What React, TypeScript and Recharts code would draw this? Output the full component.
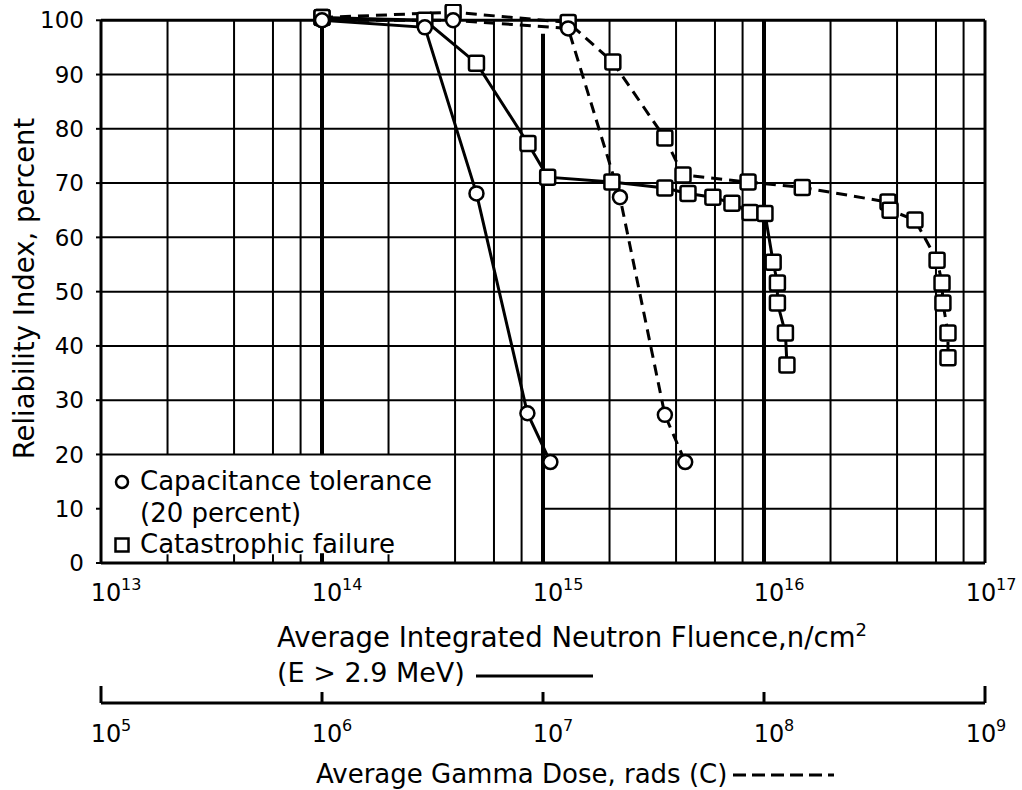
import React from 'react';
import { LineChart, Line, XAxis, YAxis, ReferenceLine } from 'recharts';

const FONT = '"DejaVu Sans", sans-serif';

// capacitance tolerance (20 percent) vs neutron fluence — solid
const capFluence = [1e14, 2.92e14, 5.0e14, 8.5e14, 1.08e15];
const capFluenceIndex = [100, 98.7, 68.1, 27.6, 18.6];

// catastrophic failure vs neutron fluence — solid
const catFluence = [
  1e14, 2.92e14, 5.0e14, 8.55e14, 1.05e15, 2.05e15, 3.56e15, 4.53e15, 5.87e15,
  7.16e15, 8.65e15, 1.01e16, 1.1e16, 1.15e16, 1.15e16, 1.25e16, 1.27e16,
];
const catFluenceIndex = [
  100.5, 100, 92.1, 77.3, 71.1, 70.2, 69.1, 68.1, 67.4, 66.3, 64.6, 64.4, 55.4,
  51.6, 47.9, 42.4, 36.5,
];

// capacitance tolerance vs gamma dose — dashed
const capGamma = [1e6, 3.92e6, 1.3e7, 2.23e7, 3.56e7, 4.4e7];
const capGammaIndex = [100, 100, 98.5, 67.4, 27.3, 18.6];

// catastrophic failure vs gamma dose — dashed
const catGamma = [
  1e6, 3.92e6, 1.3e7, 2.07e7, 3.56e7, 4.3e7, 8.47e7, 1.49e8, 3.64e8, 3.72e8,
  4.82e8, 6.07e8, 6.39e8, 6.45e8, 6.8e8, 6.8e8,
];
const catGammaIndex = [
  100.5, 101.5, 99.6, 92.3, 78.3, 71.5, 70.2, 69.2, 66.5, 65.0, 63.2, 55.8,
  51.6, 47.9, 42.4, 37.8,
];

// axes / grid
const fluenceTicks = [1e13, 1e14, 1e15, 1e16, 1e17];
const gammaTicks = [1e5, 1e6, 1e7, 1e8, 1e9];
const indexTicks = [0, 10, 20, 30, 40, 50, 60, 70, 80, 90, 100];
const gridRowsFull = [20, 30, 40, 50, 60, 70, 80, 90];
const gridColsShort = [2e13, 4e13, 6e13, 8e13, 2e14]; // stop at the legend box
const gridColsFull = [4e14, 6e14, 8e14, 2e15, 4e15, 6e15, 8e15, 2e16, 4e16, 6e16, 8e16];

const pts = (xs: number[], ys: number[]) => xs.map((x, i) => ({ x, y: ys[i] }));

const circleDot = (p: any) => (
  <circle key={`c-${p.index}`} cx={p.cx} cy={p.cy} r={7} fill="#fff" stroke="#000" strokeWidth={2.5} />
);
const squareDot = (p: any) => (
  <rect key={`s-${p.index}`} x={p.cx - 7.5} y={p.cy - 7.5} width={15} height={15} rx={2}
    fill="#fff" stroke="#000" strokeWidth={2.5} />
);

// "10" with a raised exponent; the last label is nudged left to stay on the page
const powerLabel = (x: number, y: number, value: number, last: boolean) => {
  const exp = Math.round(Math.log10(value));
  const sx = last ? x - 4 : x + 5;
  return (
    <g fontFamily={FONT} fill="#000">
      <text x={sx} y={y} textAnchor="middle" fontSize={24}>10</text>
      <text x={sx + 15} y={y - 11} fontSize={16}>{exp}</text>
    </g>
  );
};

const PowerTick = ({ x, y, payload, index }: any) =>
  powerLabel(x, y + 38, payload.value, index === fluenceTicks.length - 1);

const GammaTick = ({ x, y, payload, index }: any) => {
  const end = index === 0 || index === gammaTicks.length - 1;
  return (
    <g>
      <line x1={x} x2={x} y1={y} y2={y - (end ? 17 : 11)} stroke="#000" strokeWidth={3} />
      {powerLabel(x, y + 39, payload.value, index === gammaTicks.length - 1)}
    </g>
  );
};

const FluenceTitle = ({ viewBox }: any) => {
  const { x, y } = viewBox;
  return (
    <g fontFamily={FONT} fill="#000">
      <text x={x + 176} y={y + 84} fontSize={27.5}>
        Average Integrated Neutron Fluence,n/cm
        <tspan dy={-11} fontSize={18}>2</tspan>
      </text>
      <text x={x + 176} y={y + 119} fontSize={27}>(E &gt; 2.9 MeV)</text>
      <line x1={x + 375} x2={x + 492} y1={y + 113} y2={y + 113} stroke="#000" strokeWidth={3} />
    </g>
  );
};

const GammaTitle = ({ viewBox }: any) => {
  const { x, y } = viewBox;
  return (
    <g fontFamily={FONT} fill="#000">
      <text x={x + 215} y={y + 80} fontSize={26}>Average Gamma Dose, rads (C)</text>
      <line x1={x + 632} x2={x + 733} y1={y + 72} y2={y + 72} stroke="#000" strokeWidth={3}
        strokeDasharray="13 6" />
    </g>
  );
};

const IndexTitle = ({ viewBox }: any) => {
  const cx = viewBox.x + 24;
  const cy = viewBox.y + viewBox.height / 2 + 5;
  return (
    <text x={cx} y={cy} transform={`rotate(-90 ${cx} ${cy})`} textAnchor="middle"
      dominantBaseline="central" fontFamily={FONT} fontSize={27.5} fill="#000">
      Reliability Index, percent
    </text>
  );
};

const legendRows = [
  { mark: 'circle', text: 'Capacitance tolerance' },
  { mark: null, text: '(20 percent)' },
  { mark: 'square', text: 'Catastrophic failure' },
];

export default function App() {
  const gridLine = { stroke: '#000', strokeWidth: 2, zIndex: -100 } as any;
  return (
    <div style={{ position: 'absolute', left: 0, top: 0, width: 1022, height: 790, background: '#fff' }}>
      <LineChart width={1022} height={790} margin={{ top: 4, right: 37, bottom: 0, left: 0 }}>
        <XAxis xAxisId="fluence" dataKey="x" type="number" scale="log" domain={[1e13, 1e17]}
          allowDataOverflow ticks={fluenceTicks} interval={0} height={140} tickSize={0} tickMargin={0}
          tickLine={false} axisLine={{ stroke: '#000', strokeWidth: 3 }} tick={<PowerTick />}
          label={{ content: FluenceTitle }} />
        <XAxis xAxisId="gamma" dataKey="x" type="number" scale="log" domain={[1e5, 1e9]}
          allowDataOverflow ticks={gammaTicks} interval={0} height={87} tickSize={0} tickMargin={0}
          tickLine={false} axisLine={{ stroke: '#000', strokeWidth: 3 }} tick={<GammaTick />}
          label={{ content: GammaTitle }} />
        <YAxis dataKey="y" type="number" domain={[0, 103]} allowDataOverflow ticks={indexTicks}
          interval={0} width={101} axisLine={false} tickSize={5} tickMargin={12}
          tickLine={{ stroke: '#000', strokeWidth: 2 }}
          tick={{ fontSize: 23, fill: '#000', fontFamily: FONT }}
          label={{ content: IndexTitle }} />

        {gridRowsFull.map((v) => (
          <ReferenceLine key={`h${v}`} xAxisId="fluence" y={v} {...gridLine} />
        ))}
        <ReferenceLine xAxisId="fluence" segment={[{ x: 1e15, y: 10 }, { x: 1e17, y: 10 }]} {...gridLine} />
        {gridColsShort.map((v) => (
          <ReferenceLine key={`vs${v}`} xAxisId="fluence" segment={[{ x: v, y: 20 }, { x: v, y: 100 }]} {...gridLine} />
        ))}
        {gridColsShort.map((v) => (
          <ReferenceLine key={`vt${v}`} xAxisId="fluence" segment={[{ x: v, y: 0 }, { x: v, y: 1.6 }]} {...gridLine} />
        ))}
        {gridColsFull.map((v) => (
          <ReferenceLine key={`vf${v}`} xAxisId="fluence" segment={[{ x: v, y: 0 }, { x: v, y: 100 }]} {...gridLine} />
        ))}
        <ReferenceLine xAxisId="fluence" segment={[{ x: 1e14, y: 20 }, { x: 1e14, y: 100 }]} {...gridLine} strokeWidth={4} />
        <ReferenceLine xAxisId="fluence" segment={[{ x: 1e14, y: 0 }, { x: 1e14, y: 1.8 }]} {...gridLine} strokeWidth={4} />
        <ReferenceLine xAxisId="fluence" segment={[{ x: 1e15, y: 0 }, { x: 1e15, y: 97.5 }]} {...gridLine} strokeWidth={4} />
        <ReferenceLine xAxisId="fluence" segment={[{ x: 1e16, y: 0 }, { x: 1e16, y: 100 }]} {...gridLine} strokeWidth={4} />
        <ReferenceLine xAxisId="fluence" segment={[{ x: 1e13, y: 0 }, { x: 1e13, y: 100 }]} {...gridLine} strokeWidth={3} />
        <ReferenceLine xAxisId="fluence" segment={[{ x: 1e17, y: 0 }, { x: 1e17, y: 100 }]} {...gridLine} strokeWidth={3} />
        <ReferenceLine xAxisId="fluence" y={100} {...gridLine} strokeWidth={3} />

        <Line xAxisId="gamma" data={pts(catGamma, catGammaIndex)} dataKey="y" type="linear"
          stroke="#000" strokeWidth={3} strokeDasharray="11 7" dot={squareDot} isAnimationActive={false} />
        <Line xAxisId="gamma" data={pts(capGamma, capGammaIndex)} dataKey="y" type="linear"
          stroke="#000" strokeWidth={3} strokeDasharray="11 7" dot={circleDot} isAnimationActive={false} />
        <Line xAxisId="fluence" data={pts(catFluence, catFluenceIndex)} dataKey="y" type="linear"
          stroke="#000" strokeWidth={3} dot={squareDot} isAnimationActive={false} />
        <Line xAxisId="fluence" data={pts(capFluence, capFluenceIndex)} dataKey="y" type="linear"
          stroke="#000" strokeWidth={3} dot={circleDot} isAnimationActive={false} />
      </LineChart>

      <div style={{ position: 'absolute', left: 112, top: 466, fontFamily: FONT, fontSize: 26, lineHeight: '31.5px', color: '#000' }}>
        {legendRows.map((r) => (
          <div key={r.text} style={{ display: 'flex', alignItems: 'center', whiteSpace: 'nowrap' }}>
            <svg width={28} height={20} style={{ flex: 'none' }}>
              {r.mark === 'circle' && <circle cx={10} cy={10} r={6} fill="#fff" stroke="#000" strokeWidth={2.5} />}
              {r.mark === 'square' && <rect x={3.5} y={3.5} width={13} height={13} fill="#fff" stroke="#000" strokeWidth={2.5} />}
            </svg>
            <span>{r.text}</span>
          </div>
        ))}
      </div>
    </div>
  );
}
